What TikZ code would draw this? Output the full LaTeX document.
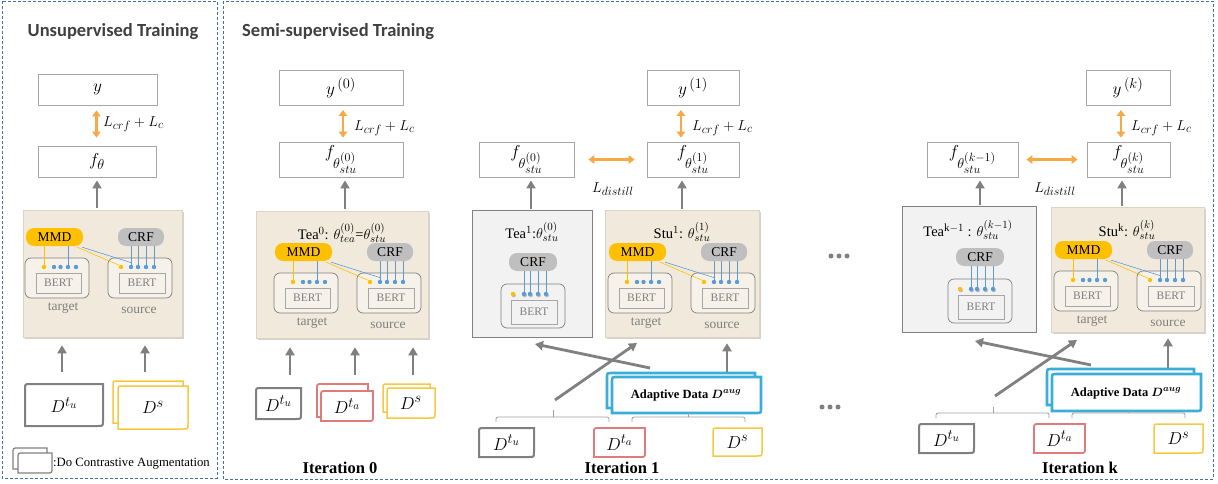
\documentclass[tikz,border=0pt]{standalone}
\usepackage{fontspec}
\usepackage{bm}
\setmainfont{Liberation Serif}
\newfontfamily\titlefont{Carlito}
\usetikzlibrary{arrows.meta,shadows}
\DeclareMathSizes{19}{19}{14}{11.5}
\DeclareMathSizes{18}{18}{13.5}{11}
\DeclareMathSizes{15}{15}{11.5}{9.5}
\DeclareMathSizes{14.5}{14.5}{11}{9}
\DeclareMathSizes{12.5}{12.5}{9.5}{8}

\definecolor{beigec}{HTML}{F1EADC}
\definecolor{beigeln}{HTML}{DCD3C2}
\definecolor{teagray}{HTML}{F2F2F2}
\definecolor{boxgray}{HTML}{A6A6A6}
\definecolor{arrgray}{HTML}{808080}
\definecolor{orng}{HTML}{F5AA45}
\definecolor{mmdc}{HTML}{FFC000}
\definecolor{crfc}{HTML}{BFBFBF}
\definecolor{dotblue}{HTML}{5B9BD5}
\definecolor{redc}{HTML}{E07B7B}
\definecolor{yelc}{HTML}{F5C842}
\definecolor{cyanc}{HTML}{3AAED8}
\definecolor{panelc}{HTML}{41719C}
\definecolor{titlec}{HTML}{404040}
\definecolor{lblc}{HTML}{7F7F7F}
\definecolor{encfill}{HTML}{F6F2EA}
\definecolor{brkc}{HTML}{A0A0A0}

\tikzset{
 outbox/.style={draw=boxgray, line width=0.8pt, fill=white, inner sep=0pt, font=\fontsize{19}{22}\selectfont},
 beigebox/.style={fill=beigec, draw=beigeln, line width=0.5pt, drop shadow={shadow xshift=1.5pt, shadow yshift=-1.5pt, opacity=0.35}},
 teabox/.style={fill=teagray, draw=arrgray, line width=0.8pt},
 pill/.style={rounded corners=8pt, inner sep=0pt, font=\rmfamily\fontsize{13.5}{15}\selectfont},
 mmd/.style={pill, fill=mmdc},
 crf/.style={pill, fill=crfc},
 encin/.style={draw=arrgray, rounded corners=6pt, fill=encfill, line width=0.7pt, inner sep=0pt},
 tencin/.style={draw=arrgray, rounded corners=6pt, fill=teagray, line width=0.7pt, inner sep=0pt},
 bert/.style={draw=boxgray, fill=encfill, line width=0.6pt, inner sep=0pt, text=lblc, font=\rmfamily\fontsize{11.5}{13}\selectfont},
 tbert/.style={draw=boxgray, fill=teagray, line width=0.6pt, inner sep=0pt, text=lblc, font=\rmfamily\fontsize{11.5}{13}\selectfont},
 ydot/.style={circle, fill=mmdc, inner sep=0pt, minimum size=4.4pt},
 bdot/.style={circle, fill=dotblue, inner sep=0pt, minimum size=4.4pt},
 sdot/.style={drop shadow={shadow xshift=0.8pt, shadow yshift=-1.2pt, opacity=0.45}},
 yline/.style={draw=mmdc, line width=0.6pt},
 bline/.style={draw=dotblue, line width=0.6pt},
 lbl/.style={text=lblc, font=\rmfamily\fontsize{13.5}{15}\selectfont},
 garrow/.style={draw=arrgray, line width=2.8pt, -{Triangle[length=8pt,width=9pt]}},
 oarrow/.style={draw=orng, line width=2.6pt, {Triangle[length=6pt,width=8.5pt]}-{Triangle[length=6pt,width=8.5pt]}},
 loss/.style={font=\fontsize{15}{17}\selectfont, anchor=west, inner sep=0pt},
 ttl/.style={font=\rmfamily\fontsize{14.5}{16}\selectfont, inner sep=0pt},
 iter/.style={font=\rmfamily\fontsize{16.5}{19}\selectfont\bfseries, inner sep=0pt},
 panel/.style={draw=panelc, dash pattern=on 3pt off 2pt, line width=0.8pt},
 bracket/.style={draw=brkc, line width=0.8pt},
 gdot/.style={circle, fill=arrgray, inner sep=0pt, minimum size=5pt},
 dtext/.style={font=\fontsize{18}{21}\selectfont},
 bigtitle/.style={font=\titlefont\bfseries\fontsize{18.5}{21}\selectfont, text=titlec, inner sep=0pt},
}

% name, x1, y1, x2, y2, style, text
\newcommand\rbox[7]{\node[#6, minimum width={(#4)-(#2)}, minimum height={(#5)-(#3)}] (#1) at ({((#2)+(#4))/2},{((#3)+(#5))/2}) {#7};}

% name, x1, y1, x2, y2, colour, width, text
\newcommand\dbox[8]{%
 \draw[draw=#6, line width=#7, fill=white] (#2,{(#3)+5}) .. controls (#2,#3) .. ({(#2)+5},#3) -- (#4,#3) -- (#4,{(#5)-5}) .. controls (#4,#5) .. ({(#4)-5},#5) -- (#2,#5) -- cycle;
 \node[dtext, inner sep=0pt, minimum width={(#4)-(#2)}, minimum height={(#5)-(#3)}] (#1) at ({((#2)+(#4))/2},{((#3)+(#5))/2}) {#8};}

% student encoder: prefix, tx, ty
\newcommand\encoder[3]{%
 \rbox{#1mmd}{#2+1}{#3-30}{#2+58}{#3-12}{mmd}{MMD}
 \rbox{#1crf}{#2+93}{#3-30}{#2+139}{#3-12}{crf}{CRF}
 \rbox{#1tgt}{#2}{#3}{#2+64}{#3+40}{encin}{}
 \rbox{#1tbert}{#2+11}{#3+15}{#2+56}{#3+35}{bert}{BERT}
 \rbox{#1src}{#2+83}{#3}{#2+147}{#3+40}{encin}{}
 \rbox{#1sbert}{#2+94}{#3+15}{#2+140}{#3+35}{bert}{BERT}
 \node[ydot] (#1ty) at ({#2+19},{#3+9}) {};
 \node[bdot] (#1tb1) at ({#2+29},{#3+9}) {};
 \node[bdot] (#1tb2) at ({#2+35.5},{#3+9}) {};
 \node[bdot] (#1tb3) at ({#2+43},{#3+9}) {};
 \node[bdot] (#1tb4) at ({#2+51},{#3+9}) {};
 \node[ydot] (#1sy) at ({#2+96},{#3+9}) {};
 \node[bdot] (#1sb1) at ({#2+106},{#3+9}) {};
 \node[bdot] (#1sb2) at ({#2+113},{#3+9}) {};
 \node[bdot] (#1sb3) at ({#2+121},{#3+9}) {};
 \node[bdot] (#1sb4) at ({#2+129},{#3+9}) {};
 \draw[yline] (#1ty.north) -- (#1ty.north |- #1mmd.south);
 \draw[bline] (#1tb3.north) -- (#1tb3.north |- #1mmd.south);
 \draw[yline] ([xshift=-6pt,yshift=-1pt]#1mmd.south east) -- (#1sy.north west);
 \draw[bline] ([xshift=-1pt,yshift=-1pt]#1mmd.south east) -- ([yshift=2pt]#1sb1.north);
 \foreach \k in {1,...,4}{\draw[bline] (#1sb\k.north) -- (#1sb\k.north |- #1crf.south);}
 \node[lbl] (#1tl) at ({#2+38},{#3+50}) {target};
 \node[lbl] (#1sl) at ({#2+114},{#3+52}) {source};
}

% teacher encoder: prefix, ix, iy
\newcommand\tencoder[3]{%
 \rbox{#1crf}{#2+8}{#3-31}{#2+56}{#3-13}{crf}{CRF}
 \rbox{#1in}{#2}{#3}{#2+64}{#3+44}{tencin}{}
 \rbox{#1bert}{#2+10}{#3+16}{#2+56}{#3+40}{tbert}{BERT}
 \node[ydot, sdot] (#1ty) at ({#2+12},{#3+10}) {};
 \node[bdot, sdot] (#1tb1) at ({#2+23},{#3+10}) {};
 \node[bdot, sdot] (#1tb2) at ({#2+29},{#3+10}) {};
 \node[bdot, sdot] (#1tb3) at ({#2+37},{#3+10}) {};
 \node[bdot, sdot] (#1tb4) at ({#2+45},{#3+10}) {};
 \foreach \k in {1,...,4}{\draw[bline] (#1tb\k.north) -- (#1tb\k.north |- #1crf.south);}
}

\begin{document}
\begin{tikzpicture}[x=1pt, y=-1pt]
\useasboundingbox (0,0) rectangle (1218,484);
\fill[white] (0,0) rectangle (1218,484);

% ---------------- panels
\draw[panel] (2,1) rectangle (217,478);
\draw[panel] (223,1) rectangle (1213,479);
\node[bigtitle] (ttlU) at (113,32) {Unsupervised Training};
\node[bigtitle, anchor=west] (ttlS) at (242,32) {Semi-supervised Training};

% ---------------- unsupervised
\rbox{yU}{38}{74}{157}{105}{outbox}{$y$}
\rbox{fU}{38}{146}{156}{177}{outbox}{$f_\theta$}
\draw[oarrow, shorten <=5pt, shorten >=8pt] ([xshift=-1pt]yU.south) -- ([xshift=-1pt]yU.south |- fU.north);
\node[loss] (lU) at (103,124) {$L_{crf}+L_c$};
\rbox{eU}{23}{210}{182}{337}{beigebox}{}
\draw[garrow, shorten <=2pt, shorten >=3pt] (fU.south |- eU.north) -- (fU.south);
\encoder{U}{25}{258}
\dbox{dtuU}{25}{384}{103}{426}{arrgray}{2}{$D^{t_u}$}
\dbox{dsUb}{113}{381}{183}{423}{yelc}{1.5}{}
\dbox{dsU}{118}{386}{188}{429}{yelc}{1.5}{$D^{s}$}
\coordinate (aU1) at (62,372);
\coordinate (aU2) at (145,372);
\draw[garrow, shorten >=8pt] (aU1) -- (aU1 |- eU.south);
\draw[garrow, shorten >=8pt] (aU2) -- (aU2 |- eU.south);
\dbox{lgb}{13}{448}{47}{469}{arrgray}{1.2}{}
\dbox{lg}{18}{453}{52}{473}{arrgray}{1.2}{}
\node[anchor=west, font=\rmfamily\fontsize{12.7}{14}\selectfont, inner sep=0pt] (lgt) at (53,464) {:Do Contrastive Augmentation};

% ---------------- iteration 0
\rbox{y0}{279}{70}{403}{105}{outbox}{$y^{\,(0)}$}
\rbox{f0}{279}{142}{403}{177}{outbox}{$f_{\theta^{(0)}_{stu}}$}
\coordinate (o0a) at (343,105);
\draw[oarrow, shorten <=5pt, shorten >=4pt] (o0a) -- (o0a |- f0.north);
\node[loss] (l0) at (354,128) {$L_{crf}+L_c$};
\rbox{s0}{256}{211}{428}{338}{beigebox}{}
\node[ttl] (s0t) at (342,233) {Tea$^0$: $\theta^{(0)}_{tea}$=$\theta^{(0)}_{stu}$};
\coordinate (g0) at (345,0);
\draw[garrow, shorten <=2pt, shorten >=3pt] (g0 |- s0.north) -- (g0 |- f0.south);
\encoder{A}{274}{273}
\dbox{dtu0}{256}{388}{301}{419}{arrgray}{2}{$D^{t_u}$}
\dbox{dta0b}{317}{384}{368}{417}{redc}{1.8}{}
\dbox{dta0}{321}{391}{373}{421}{redc}{1.8}{$D^{t_a}$}
\dbox{ds0b}{383}{384}{430}{412}{yelc}{1.5}{}
\dbox{ds0}{387}{388}{435}{418}{yelc}{1.5}{$D^{s}$}
\coordinate (a01) at (290,375);
\coordinate (a02) at (355,375);
\coordinate (a03) at (413,375);
\draw[garrow, shorten >=9pt] (a01) -- (a01 |- s0.south);
\draw[garrow, shorten >=9pt] (a02) -- (a02 |- s0.south);
\draw[garrow, shorten >=9pt] (a03) -- (a03 |- s0.south);
\node[iter] (it0) at (340,468) {Iteration 0};

% ---------------- iteration 1
\rbox{y1}{647}{70}{739}{105}{outbox}{$y^{\,(1)}$}
\rbox{f1}{647}{142}{739}{177}{outbox}{$f_{\theta^{(1)}_{stu}}$}
\rbox{f1t}{479}{142}{574}{177}{outbox}{$f_{\theta^{(0)}_{stu}}$}
\coordinate (o1a) at (681,105);
\draw[oarrow, shorten <=5pt, shorten >=4pt] (o1a) -- (o1a |- f1.north);
\node[loss] (l1) at (692,128) {$L_{crf}+L_c$};
\draw[oarrow, shorten <=14pt, shorten >=12pt] (f1t.east) -- (f1.west);
\node[loss, anchor=center] (ld1) at (613,189) {$L_{distill}$};
\rbox{t1}{472}{210}{592}{337}{teabox}{}
\node[ttl] (t1t) at (532,232) {Tea$^1$:$\theta^{(0)}_{stu}$};
\tencoder{B}{501}{284}
\rbox{s1}{605}{210}{759}{337}{beigebox}{}
\node[ttl] (s1t) at (682,232) {Stu$^1$: $\theta^{(1)}_{stu}$};
\encoder{C}{608}{273}
\coordinate (g1a) at (531,0);
\coordinate (g1b) at (682,0);
\draw[garrow, shorten <=1pt, shorten >=3pt] (g1a |- t1.north) -- (g1a |- f1t.south);
\draw[garrow, shorten <=1pt, shorten >=3pt] (g1b |- s1.north) -- (g1b |- f1.south);
\dbox{ad1b}{607}{373}{755}{408}{cyanc}{2.6}{}
\dbox{ad1}{612}{377}{761}{413}{cyanc}{2.6}{}
\node[font=\rmfamily\fontsize{12.5}{14}\selectfont\bfseries] (ad1t) at (686,395) {Adaptive Data $\bm{D^{aug}}$};
\coordinate (c1a) at (650,368);
\coordinate (c1b) at (535,344);
\coordinate (c1c) at (555,400);
\coordinate (c1d) at (637,343);
\coordinate (c1e) at (727,372);
\draw[garrow] (c1a) -- (c1b);
\draw[garrow] (c1c) -- (c1d);
\draw[garrow, shorten >=6pt] (c1e) -- (c1e |- s1.south);
\draw[bracket, rounded corners=2pt] (496,422) -- (496,417) -- (609,417) -- (609,422);
\draw[bracket] (553,417) -- (553,410);
\draw[bracket, rounded corners=2pt] (632,422) -- (632,417) -- (745,417) -- (745,422);
\draw[bracket] (688,417) -- (688,413);
\dbox{dtu1}{479}{428}{534}{457}{arrgray}{2}{$D^{t_u}$}
\dbox{dta1}{594}{428}{645}{457}{redc}{1.8}{$D^{t_a}$}
\dbox{ds1}{713}{428}{762}{456}{yelc}{1.5}{$D^{s}$}
\node[iter] (it1) at (622,468) {Iteration 1};

% ---------------- ellipsis dots
\node[gdot] (e1) at (831,256) {};
\node[gdot] (e2) at (839,256) {};
\node[gdot] (e3) at (847,256) {};
\node[gdot] (e4) at (822,407) {};
\node[gdot] (e5) at (830,407) {};
\node[gdot] (e6) at (838,407) {};

% ---------------- iteration k
\rbox{yk}{1086}{70}{1170}{105}{outbox}{$y^{\,(k)}$}
\rbox{fk}{1087}{142}{1170}{177}{outbox}{$f_{\theta^{(k)}_{stu}}$}
\rbox{fkt}{927}{142}{1018}{177}{outbox}{$f_{\theta^{(k-1)}_{stu}}$}
\coordinate (oka) at (1121,105);
\draw[oarrow, shorten <=5pt, shorten >=4pt] (oka) -- (oka |- fk.north);
\node[loss] (lk) at (1131,128) {$L_{crf}+L_c$};
\draw[oarrow, shorten <=8pt, shorten >=9pt] (fkt.east) -- (fk.west);
\node[loss, anchor=center] (ldk) at (1055,189) {$L_{distill}$};
\rbox{tk}{902}{206}{1036}{332}{teabox}{}
\node[ttl] (tkt) at (968,230) {Tea$^{\mathrm{k}-1}$ : $\theta^{(k-1)}_{stu}$};
\tencoder{D}{948}{279}
\rbox{sk}{1051}{207}{1204}{332}{beigebox}{}
\node[ttl] (skt) at (1127,230) {Stu$^{\mathrm{k}}$: $\theta^{(k)}_{stu}$};
\encoder{E}{1054}{271}
\coordinate (gka) at (980,0);
\coordinate (gkb) at (1122,0);
\draw[garrow, shorten <=1pt, shorten >=3pt] (gka |- tk.north) -- (gka |- fkt.south);
\draw[garrow, shorten <=1pt, shorten >=3pt] (gkb |- sk.north) -- (gkb |- fk.south);
\dbox{adkb}{1047}{369}{1194}{405}{cyanc}{2.6}{}
\dbox{adk}{1052}{374}{1201}{411}{cyanc}{2.6}{}
\node[font=\rmfamily\fontsize{12.5}{14}\selectfont\bfseries] (adkt) at (1126,393) {Adaptive Data $\bm{D^{aug}}$};
\coordinate (cka) at (1091,365);
\coordinate (ckb) at (975,341);
\coordinate (ckc) at (995,396);
\coordinate (ckd) at (1077,340);
\coordinate (cke) at (1168,368);
\draw[garrow] (cka) -- (ckb);
\draw[garrow] (ckc) -- (ckd);
\draw[garrow, shorten >=6pt] (cke) -- (cke |- sk.south);
\draw[bracket, rounded corners=2pt] (936,418) -- (936,413) -- (1049,413) -- (1049,418);
\draw[bracket] (993,413) -- (993,407);
\draw[bracket, rounded corners=2pt] (1072,418) -- (1072,413) -- (1185,413) -- (1185,418);
\draw[bracket] (1128,413) -- (1128,411);
\dbox{dtuk}{919}{424}{974}{453}{arrgray}{2}{$D^{t_u}$}
\dbox{dtak}{1034}{424}{1085}{453}{redc}{1.8}{$D^{t_a}$}
\dbox{dsk}{1154}{424}{1203}{453}{yelc}{1.5}{$D^{s}$}
\node[iter] (itk) at (1080,468) {Iteration k};
\end{tikzpicture}
\end{document}
